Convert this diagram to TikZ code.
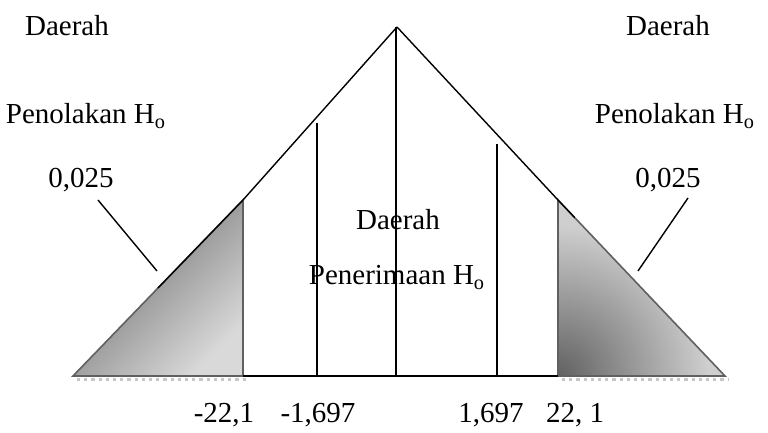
\documentclass[tikz,border=0pt]{standalone}
\usepackage{fontspec}
\setmainfont{Liberation Serif}
\usetikzlibrary{calc}
\begin{document}
\begin{tikzpicture}[x=0.5pt,y=-0.5pt,
  lbl/.style={anchor=base,inner sep=0pt,font=\fontsize{14.5}{17}\selectfont},
  blk/.style={line width=0.7pt,black},
  tri/.style={draw=gray!75!black,line width=0.8pt},
  shadowline/.style={line width=1.6pt,gray!45,dotted}]
\useasboundingbox (0,0) rectangle (768,433);
% coordinates
\coordinate (apex) at (397,27);
\coordinate (lt) at (243,200);
\coordinate (lb) at (243,376);
\coordinate (lf) at (73,376);
\coordinate (rt) at (558,200);
\coordinate (rb) at (558,376);
\coordinate (rf) at (725,376);
% shaded triangles
\shade[top color=black!60,middle color=gray!40,bottom color=gray!30,shading angle=45]
  (lf) -- (lt) -- (lb) -- cycle;
\begin{scope}
  \clip (rf) -- (rt) -- (rb) -- cycle;
  \fill[gray!38] (rf) -- (rt) -- (rb) -- cycle;
  \shade[inner color=black!62,outer color=gray!38] (rb) circle (150);
\end{scope}
\draw[shadowline] (77,379.5) -- (247,379.5);
\draw[shadowline] (562,379.5) -- (729,379.5);
\draw[tri] (lf) -- (lt) -- (lb) -- cycle;
\draw[tri] (rf) -- (rt) -- (rb) -- cycle;
% black lines
\draw[blk] (apex) -- (lt) -- ($(lt)!0.5!(lf)$);
\draw[blk] (apex) -- (rt) -- ($(rt)!0.1!(rf)$);
\draw[blk] (lb) -- (rb);
\draw[blk] (396,27) -- (396,376);
\draw[blk] (317,123) -- (317,376);
\draw[blk] (497,144) -- (497,376);
% leader lines
\coordinate (la1) at (98,200);
\coordinate (la2) at (157,271);
\coordinate (ra1) at (688,198);
\coordinate (ra2) at (638,271);
\draw[blk] (la1) -- (la2);
\draw[blk] (ra1) -- (ra2);
% labels
\node[lbl] (dl) at (67,36) {Daerah};
\node[lbl] (pl) at (86,124) {Penolakan H\textsubscript{o}};
\node[lbl] (al) at (81,188) {0,025};
\node[lbl] (dr) at (668,36) {Daerah};
\node[lbl] (pr) at (675,124) {Penolakan H\textsubscript{o}};
\node[lbl] (ar) at (668,188) {0,025};
\node[lbl] (dc) at (398,230) {Daerah};
\node[lbl] (pc) at (397,285) {Penerimaan H\textsubscript{o}};
\node[lbl] (b1) at (224,423) {-22,1};
\node[lbl] (b2) at (318,423) {-1,697};
\node[lbl] (b3) at (491,423) {1,697};
\node[lbl] (b4) at (575,423) {22, 1};
\end{tikzpicture}
\end{document}
